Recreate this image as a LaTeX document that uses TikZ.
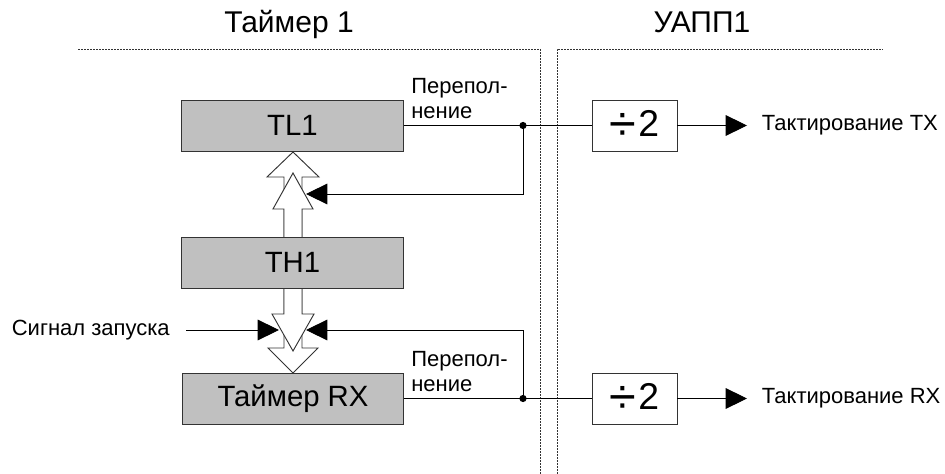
\documentclass[tikz,border=0pt]{standalone}
\usepackage{fontspec}
\setmainfont{Liberation Sans}
\usetikzlibrary{arrows.meta}
\definecolor{regfill}{RGB}{192,192,192}
\definecolor{zonegray}{RGB}{50,50,50}

\begin{document}
\begin{tikzpicture}[x=0.75pt, y=-0.75pt,
      reg/.style={draw=black!80, line width=0.7pt, fill=regfill,
                  minimum width=166pt, minimum height=38.25pt,
                  font=\fontsize{22}{26}\selectfont},
      divbox/.style={draw=black!80, line width=0.7pt, fill=white,
                  minimum width=63.75pt, minimum height=38.25pt,
                  font=\fontsize{28}{30}\selectfont},
      lbl/.style={font=\fontsize{16.5}{18.75}\selectfont, inner sep=0pt},
      grouptitle/.style={font=\fontsize{22.5}{26}\selectfont, inner sep=0pt, anchor=base},
      sig/.style={line width=0.7pt},
      arr/.style={sig, -{Triangle[length=16pt, width=15.5pt]}},
      hollow/.style={draw=black!80, line width=0.7pt, fill=white},
      zone/.style={draw=zonegray, line width=0.55pt, dash pattern=on 1.5pt off 0.75pt}]
    \useasboundingbox (0,0) rectangle (945,474);

    \draw[zone] (78,49) -| (540,474);
    \draw[zone] (557,474) |- (883,49);

    \draw[hollow] (284,237) -- (284,177) -- (267,177) -- (293,152) -- (319,177) -- (302,177) -- (302,237);
    \draw[hollow] (284,237) -- (284,209) -- (273,209) -- (293,173) -- (313,209) -- (302,209) -- (302,237);
    \draw[hollow] (284,288) -- (284,348) -- (268,348) -- (293,373) -- (318,348) -- (302,348) -- (302,288);
    \draw[hollow] (284,288) -- (284,314) -- (272,314) -- (293,351) -- (314,314) -- (302,314) -- (302,288);

    \node[grouptitle] (t1) at (289,33) {Таймер 1};
    \node[grouptitle] (uart) at (702,33) {УАПП1};

    \node[reg] (tl1) at (292.5,125.5) {TL1};
    \node[reg] (th1) at (292.5,262.5) {TH1};
    \node[reg] (trx) at (293,398.5) {Таймер RX};
    \node[divbox] (div1) at (634.5,125.5) {\raisebox{-2.5pt}{\scalebox{1.3}{÷}}\kern1.5pt2};
    \node[divbox] (div2) at (634.5,398.5) {\raisebox{-2.5pt}{\scalebox{1.3}{÷}}\kern1.5pt2};

    \node[lbl, anchor=west, inner xsep=11pt] (tx) at (747,125.5) {Тактирование TX};
    \node[lbl, anchor=west, inner xsep=11pt] (rx) at (747,398.5) {Тактирование RX};
    \node[lbl, anchor=east, inner xsep=12pt] (start) at (186,330) {Сигнал запуска};
    \node[lbl, anchor=north west, align=left] (ovf1) at (411,78) {Перепол-\\нение};
    \node[lbl, anchor=north west, align=left] (ovf2) at (411,351) {Перепол-\\нение};

    \coordinate (j1) at (523,125.5);
    \coordinate (j2) at (523,398.5);
    \coordinate (fb1) at (306,194);
    \coordinate (fb2) at (306,330);
    \coordinate (st) at (279,330);

    \draw[sig] (tl1) -- (div1);
    \draw[arr] (div1) -- (tx);
    \draw[arr] (j1) |- (fb1);
    \fill (j1) circle[radius=2.7pt];

    \draw[sig] (trx) -- (div2);
    \draw[arr] (div2) -- (rx);
    \draw[arr] (j2) |- (fb2);
    \fill (j2) circle[radius=2.7pt];

    \draw[arr] (start) -- (st);
  \end{tikzpicture}
\end{document}
